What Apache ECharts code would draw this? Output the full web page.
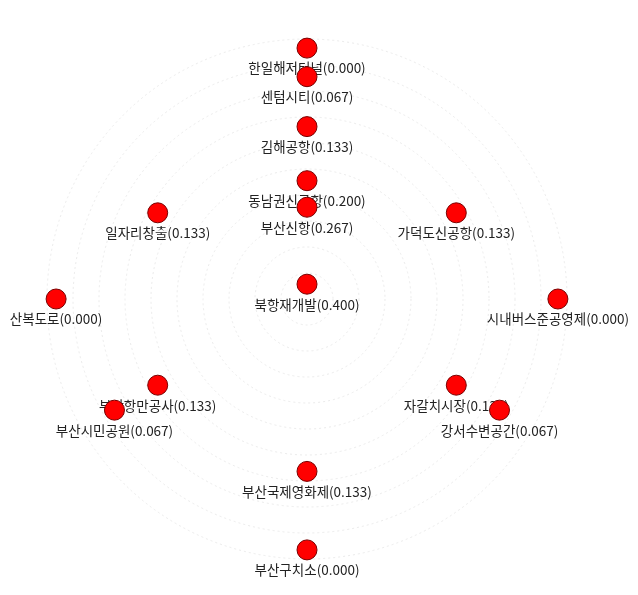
<!DOCTYPE html>
<html>
<head>
<meta charset="utf-8">
<script src="https://cdn.jsdelivr.net/npm/echarts@6/dist/echarts.min.js"></script>
<style>html,body{margin:0;padding:0;background:#fff;}#main{width:638px;height:595px;}</style>
</head>
<body>
<div id="main"></div>
<script>
// Node names and their centrality values (as labelled)
const nodeNames = ['한일해저터널','산복도로','부산구치소','시내버스준공영제',
  '김해공항','일자리창출','부산항만공사','부산국제영화제','자갈치시장','가덕도신공항',
  '동남권신공항','부산신항','센텀시티','부산시민공원','강서수변공간','북항재개발'];
const centrality = [0.000,0.000,0.000,0.000,
  0.133,0.133,0.133,0.133,0.133,0.133,
  0.200,0.267,0.067,0.067,0.067,0.400];
// Concentric levels (by centrality) and their radial distance in the layout (grid units)
const levelValues = [0.400, 0.267, 0.200, 0.133, 0.067, 0.000];
const levelDistance = [0.57, 3.53, 4.55, 6.63, 8.55, 9.65];
const gridRings = [0,1,2,3,4,5,6,7,8,9,10];

// distribute nodes of each level evenly round their ring, starting at the top
const levelCount = {}; const levelSeen = {};
centrality.forEach(v => { levelCount[v] = (levelCount[v] || 0) + 1; });
const series = nodeNames.map((name, i) => {
  const v = centrality[i];
  const k = levelSeen[v] || 0; levelSeen[v] = k + 1;
  const ang = (90 + 360 * k / levelCount[v]) % 360;
  const r = levelDistance[levelValues.indexOf(v)];
  return {
    type: 'scatter', coordinateSystem: 'polar', z: 2 + i,
    symbol: 'circle', symbolSize: 20,
    itemStyle: { color: '#ff0000', opacity: 1, borderColor: '#7a0000', borderWidth: 1 },
    label: { show: true, position: 'bottom', distance: 3,
      formatter: name + '(' + v.toFixed(3) + ')',
      color: '#222', fontSize: 13.5, fontFamily: 'Noto Sans CJK KR' },
    emphasis: { disabled: true },
    data: [{ name: name, value: [r, ang] }],
    animation: false
  };
});

const chart = echarts.init(document.getElementById('main'));
chart.setOption({
  backgroundColor: '#fff',
  animation: false,
  polar: { center: [307, 299], radius: 260 },
  angleAxis: { type: 'value', min: 0, max: 360, startAngle: 0, clockwise: false,
    axisLine: { show: false }, axisTick: { show: false }, axisLabel: { show: false },
    splitLine: { show: false } },
  radiusAxis: { type: 'value', min: gridRings[0], max: gridRings[gridRings.length - 1], interval: 1,
    axisLine: { show: false }, axisTick: { show: false }, axisLabel: { show: false },
    splitLine: { show: true, lineStyle: { color: '#ececec', type: [2, 3], width: 1 } } },
  series: series
});
</script>
</body>
</html>
